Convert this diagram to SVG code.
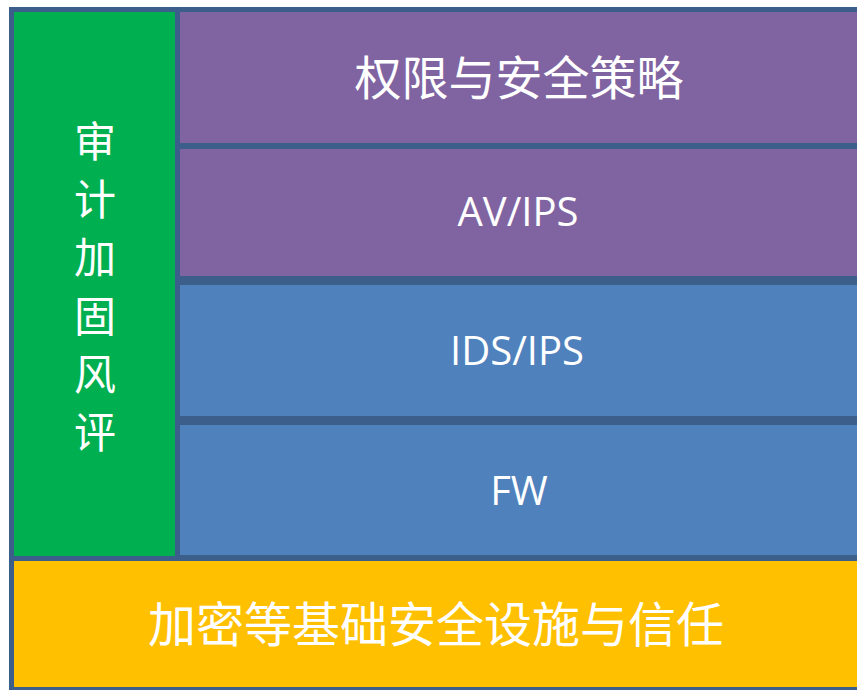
<svg xmlns="http://www.w3.org/2000/svg" width="857" height="690" viewBox="0 0 857 690">
<style>
.cjk{font-family:"Noto Sans CJK SC","Noto Sans",sans-serif;fill:#ffffff;text-anchor:middle;dominant-baseline:central}
.lat{font-family:"Open Sans","Liberation Sans",sans-serif;fill:#ffffff;text-anchor:middle;font-size:40px}
</style>
<rect width="857" height="690" fill="#ffffff"/>
<rect x="9" y="7" width="848" height="683" fill="#3B5E8B"/>
<g id="audit">
<rect x="14" y="12" width="161" height="544" fill="#00AF50"/>
<text class="cjk" font-size="42"><tspan x="95" y="138">审</tspan><tspan x="95" y="196">计</tspan><tspan x="95" y="254">加</tspan><tspan x="95" y="313">固</tspan><tspan x="95" y="371">风</tspan><tspan x="95" y="429">评</tspan></text>
</g>
<g id="policy">
<rect x="180" y="12" width="677" height="131" fill="#8064A2"/>
<text class="cjk" font-size="47" x="519" y="74">权限与安全策略</text>
</g>
<g id="avips">
<rect x="180" y="149" width="677" height="127" fill="#8064A2"/>
<text class="lat" x="518" y="226">AV/IPS</text>
</g>
<g id="idsips">
<rect x="180" y="285" width="677" height="131" fill="#4F81BD"/>
<text class="lat" x="517" y="365">IDS/IPS</text>
</g>
<g id="fw">
<rect x="180" y="425" width="677" height="130" fill="#4F81BD"/>
<text class="lat" x="519" y="505">FW</text>
</g>
<g id="base">
<rect x="14" y="561" width="843" height="126" fill="#FFC000"/>
<text class="cjk" font-size="48" x="436" y="621">加密等基础安全设施与信任</text>
</g>
<g id="connectors"/>
</svg>
